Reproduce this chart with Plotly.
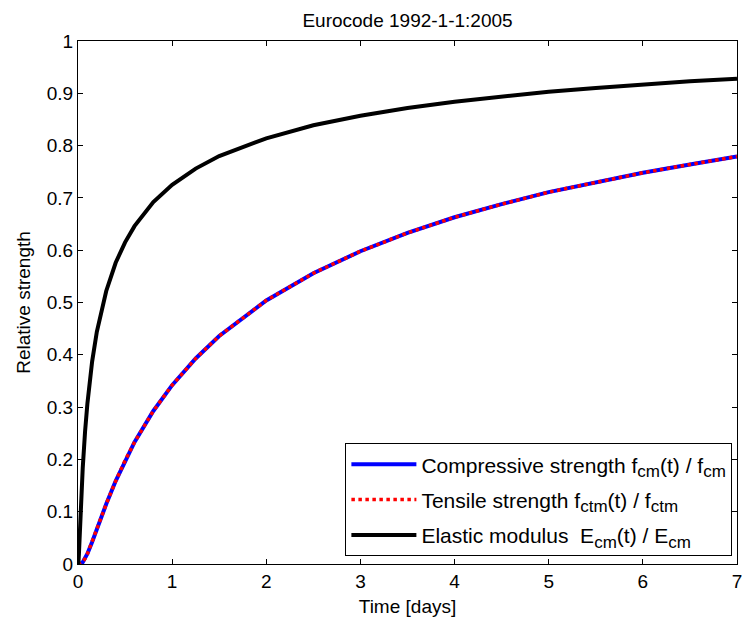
import plotly.graph_objects as go

# Time [days]
t_days = [0, 0.005, 0.01, 0.02, 0.03, 0.04, 0.05, 0.075, 0.1, 0.15, 0.2, 0.3, 0.4, 0.5, 0.6, 0.8,
          1.0, 1.25, 1.5, 2.0, 2.5, 3.0, 3.5, 4.0, 4.5, 5.0, 5.5, 6.0, 6.5, 7.0]
# Relative compressive strength fcm(t)/fcm
fcm_rel = [0, 0, 0, 0.0001, 0.0006, 0.0017, 0.0035, 0.0103, 0.0196, 0.0422, 0.0667, 0.1147, 0.1585,
           0.1978, 0.2328, 0.2926, 0.342, 0.393, 0.436, 0.504, 0.556, 0.598, 0.633, 0.663, 0.688,
           0.711, 0.730, 0.748, 0.764, 0.779]
# Relative tensile strength fctm(t)/fctm
fctm_rel = [0, 0, 0, 0.0001, 0.0006, 0.0017, 0.0035, 0.0103, 0.0196, 0.0422, 0.0667, 0.1147, 0.1585,
            0.1978, 0.2328, 0.2926, 0.342, 0.393, 0.436, 0.504, 0.556, 0.598, 0.633, 0.663, 0.688,
            0.711, 0.730, 0.748, 0.764, 0.779]
# Relative elastic modulus Ecm(t)/Ecm
ecm_rel = [0, 0.004, 0.020, 0.065, 0.109, 0.148, 0.183, 0.253, 0.307, 0.387, 0.444, 0.522, 0.576,
           0.615, 0.646, 0.692, 0.725, 0.756, 0.780, 0.814, 0.839, 0.857, 0.872, 0.884, 0.894,
           0.903, 0.910, 0.917, 0.923, 0.928]

x_ticks = [0, 1, 2, 3, 4, 5, 6, 7]
y_ticks = [0, 0.1, 0.2, 0.3, 0.4, 0.5, 0.6, 0.7, 0.8, 0.9, 1]
y_tick_labels = ["0", "0.1", "0.2", "0.3", "0.4", "0.5", "0.6", "0.7", "0.8", "0.9", "1"]

font_family = "Liberation Sans, Arial, sans-serif"


def sub(s):
    return '<sub><span style="font-size:17px">' + s + '</span></sub>'


fig = go.Figure()
fig.add_trace(go.Scatter(x=t_days, y=fcm_rel, mode="lines", legendgroup="a",
                         line=dict(color="#0000ff", width=4),
                         name="Compressive strength f" + sub("cm") + "(t) / f" + sub("cm")))
fig.add_trace(go.Scatter(x=t_days, y=fctm_rel, mode="lines", legendgroup="b",
                         line=dict(color="#ff0000", width=3.5, dash="dot"),
                         name="Tensile strength f" + sub("ctm") + "(t) / f" + sub("ctm")))
fig.add_trace(go.Scatter(x=t_days, y=ecm_rel, mode="lines", legendgroup="c",
                         line=dict(color="#000000", width=4),
                         name="Elastic modulus  E" + sub("cm") + "(t) / E" + sub("cm")))

axis_common = dict(showgrid=False, zeroline=False, showline=True, linecolor="black", linewidth=1,
                   mirror="ticks", ticks="inside", ticklen=5, tickcolor="black",
                   ticklabeloverflow="allow",
                   tickfont=dict(size=19, color="black", family=font_family))

fig.update_layout(
    width=745, height=623,
    margin=dict(l=78, r=3, t=41, b=59),
    paper_bgcolor="white", plot_bgcolor="white",
    font=dict(family=font_family, color="black"),
    title=dict(text="Eurocode 1992-1-1:2005", x=0.5, xref="paper", xanchor="center",
               y=0.968, yref="container", yanchor="middle",
               font=dict(size=19, color="black", family=font_family)),
    xaxis=dict(range=[0, 7], tickvals=x_ticks,
               title=dict(text="Time [days]", font=dict(size=19), standoff=8), **axis_common),
    yaxis=dict(range=[0, 1], tickvals=y_ticks, ticktext=y_tick_labels,
               title=dict(text="Relative strength", font=dict(size=19), standoff=11), **axis_common),
    legend=dict(x=0.993, y=0.015, xanchor="right", yanchor="bottom",
                bgcolor="white", bordercolor="black", borderwidth=1,
                font=dict(size=21, color="black", family=font_family),
                itemwidth=65, tracegroupgap=5),
    showlegend=True,
)

fig.write_html("out.html")
